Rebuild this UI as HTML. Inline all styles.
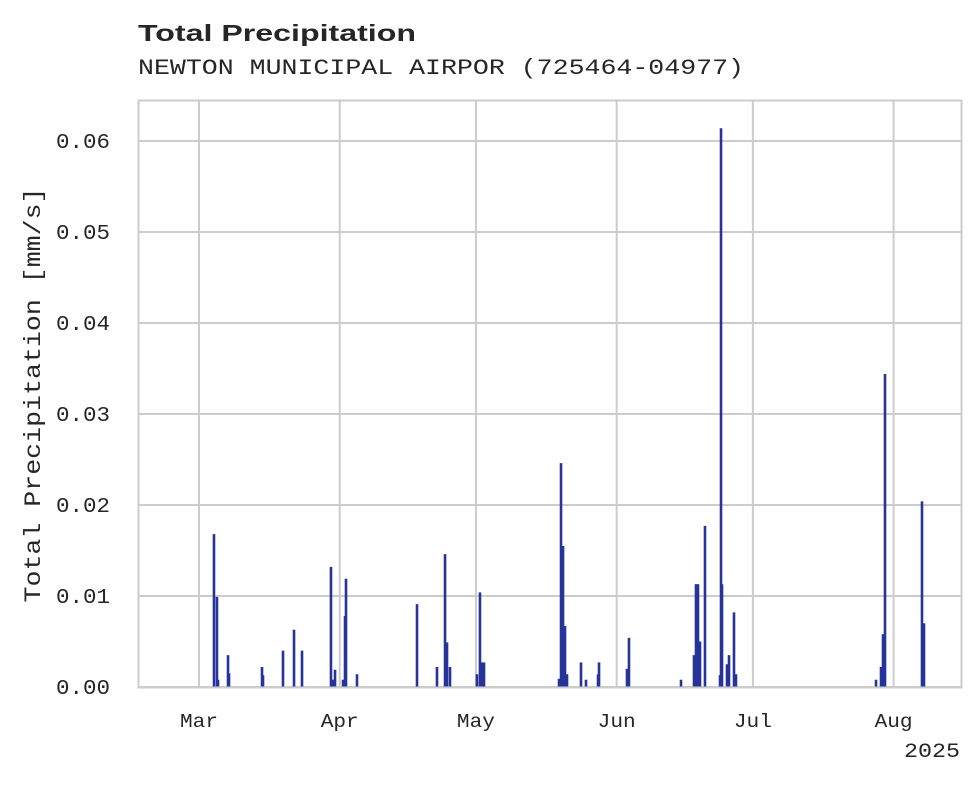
<!DOCTYPE html>
<html><head><meta charset="utf-8"><style>
body{margin:0;background:#fff;}
svg text{fill:#262626;}
</style></head><body>
<svg id="chart" width="980" height="783" xmlns="http://www.w3.org/2000/svg">
<text x="138" y="41" font-family="Liberation Sans, sans-serif" font-weight="bold" font-size="23" textLength="278" lengthAdjust="spacingAndGlyphs">Total Precipitation</text>
<text x="138" y="74" font-family="Liberation Mono, monospace" font-size="22" textLength="606" lengthAdjust="spacingAndGlyphs">NEWTON MUNICIPAL AIRPOR (725464-04977)</text>
<g id="grid"></g>
<g id="bars"></g>
<rect x="138.5" y="100.5" width="823" height="587" fill="none" stroke="#cccccc" stroke-width="2"/>
<g id="ticks"></g>
<text transform="translate(40,395) rotate(-90)" text-anchor="middle" font-family="Liberation Mono, monospace" font-size="23" textLength="415" lengthAdjust="spacingAndGlyphs">Total Precipitation [mm/s]</text>
<text x="960" y="757" text-anchor="end" font-family="Liberation Mono, monospace" font-size="20" textLength="56" lengthAdjust="spacingAndGlyphs">2025</text>
</svg>
<script>
const dayOffsets=[3.30,3.96,4.19,6.39,6.61,13.88,14.10,18.50,20.93,22.69,29.07,29.52,29.96,31.72,32.16,32.38,34.80,48.02,52.42,54.19,54.63,55.29,61.23,61.89,62.33,62.78,79.30,79.74,80.18,80.62,81.06,84.14,85.24,87.89,88.11,94.27,94.71,106.17,109.03,109.47,109.91,110.35,111.45,114.76,114.98,115.20,116.30,116.74,117.84,118.28,149.12,150.22,150.66,151.10,159.25,159.69];
const precip=[0.0168,0.0099,0.0008,0.0035,0.0015,0.0022,0.0013,0.0040,0.0063,0.0040,0.0132,0.0008,0.0019,0.0008,0.0078,0.0119,0.0014,0.0091,0.0022,0.0146,0.0049,0.0022,0.0014,0.0104,0.0027,0.0027,0.0009,0.0246,0.0155,0.0067,0.0014,0.0027,0.0008,0.0014,0.0027,0.0020,0.0054,0.0008,0.0035,0.0113,0.0113,0.0050,0.0177,0.0013,0.0614,0.0113,0.0025,0.0035,0.0082,0.0014,0.0008,0.0022,0.0058,0.0344,0.0204,0.0070];
const yTicks=[0,0.01,0.02,0.03,0.04,0.05,0.06];
const yTickLabels=["0.00","0.01","0.02","0.03","0.04","0.05","0.06"];
const monthOffsets=[0,31,61,92,122,153];
const monthLabels=["Mar","Apr","May","Jun","Jul","Aug"];
const NS="http://www.w3.org/2000/svg";
const xS=d=>199+d*4.54;
const yS=v=>687-v*9100;
const grid=document.getElementById('grid'),bars=document.getElementById('bars'),ticks=document.getElementById('ticks');
function mk(tag,attrs,parent){const e=document.createElementNS(NS,tag);for(const k in attrs)e.setAttribute(k,attrs[k]);parent.appendChild(e);return e;}
yTicks.forEach((v,i)=>{
  const l=mk('line',{x1:138,x2:962,y1:yS(v),y2:yS(v),stroke:'#cccccc','stroke-width':2},grid);
  
  
  const t=mk('text',{x:110,y:yS(v)+7,'text-anchor':'end','font-family':'Liberation Mono, monospace','font-size':21,textLength:54,lengthAdjust:'spacingAndGlyphs'},ticks);
  t.textContent=yTickLabels[i];
  
  
});
monthOffsets.forEach((d,i)=>{
  const l=mk('line',{x1:xS(d),x2:xS(d),y1:100,y2:687,stroke:'#cccccc','stroke-width':2},grid);
  
  
  const t=mk('text',{x:xS(d),y:727,'text-anchor':'middle','font-family':'Liberation Mono, monospace','font-size':19,textLength:38,lengthAdjust:'spacingAndGlyphs'},ticks);
  t.textContent=monthLabels[i];
  
  
});
dayOffsets.forEach((d,i)=>{
  const x=xS(d),y=yS(precip[i]);
  const r=mk('rect',{x:x-1.3,y:y,width:2.6,height:687-y,fill:'#26349a'},bars);
  
  
});
</script>
</body></html>
